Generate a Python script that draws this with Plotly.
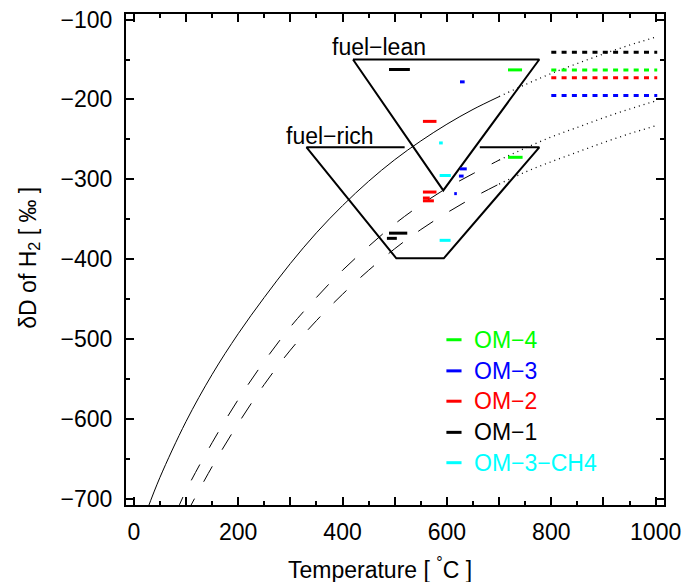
import plotly.graph_objects as go

# ---------------- data ----------------
# equilibrium curves (temperature in deg C, dD in permil); solid/dashed up to 700 C, dotted beyond
solid_T = [25, 50, 100, 150, 200, 250, 300, 350, 400, 450, 500, 550, 600, 650, 700, 750, 800, 850, 900, 950, 1000]
solid_d = [-715, -673.5, -603.5, -544.5, -493.5, -448, -405.5, -367, -333, -302.5, -275.5, -252, -231, -212.5,
           -196.5, -181.5, -167.5, -155, -143, -132, -122]
dashA_T = [80, 100, 150, 200, 250, 300, 350, 400, 450, 500, 550, 600, 650, 700, 750, 800, 850, 900, 950, 1000]
dashA_d = [-719, -690, -630, -576, -528, -485, -448, -414, -384, -356, -332, -311, -293, -276, -261, -247, -235,
           -223, -212, -202]
dashB_T = [100, 150, 200, 250, 300, 350, 400, 450, 500, 550, 600, 650, 700, 750, 800, 850, 900, 950, 1000]
dashB_d = [-720, -660, -606, -557, -514, -477, -444, -414, -387, -363, -342, -323, -306, -291, -278, -266, -254,
           -243, -233]
T_SWITCH = 700

# fuel-lean triangle and fuel-rich trapezoid outlines
lean_T = [420, 593, 777, 420]
lean_d = [-150, -314, -150, -150]
rich_T = [519, 331, 503, 594, 777, 663]
rich_d = [-260, -260, -399, -399, -260, -260]

# measured samples: temperature range (lo, hi) and dD
series_names = ["OM−4", "OM−3", "OM−2", "OM−1", "OM−3−CH4"]
series_colors = ["#00ff00", "#0000ff", "#ff0000", "#000000", "#00ffff"]
om4_Tlo = [717, 717]
om4_Thi = [744, 745]
om4_d = [-163, -272.5]
om3_Tlo = [625, 625, 623, 614]
om3_Thi = [634, 638, 632, 619]
om3_d = [-178, -287, -296, -318]
om2_Tlo = [554, 554, 554, 554]
om2_Thi = [580, 580, 567, 575]
om2_d = [-227.5, -316, -323.5, -327]
om1_Tlo = [489, 489, 485]
om1_Thi = [529, 524, 504]
om1_d = [-162.5, -367.5, -374]
ch4_Tlo = [585, 586, 586]
ch4_Thi = [592, 607.5, 607]
ch4_d = [-254.5, -295.3, -376.5]

# reference levels drawn as thick dotted lines at high temperature
ref_T = [800, 1003]
ref_names = ["OM−1", "OM−4", "OM−2", "OM−3"]
ref_d = [-141, -163, -173, -195]
ref_colors = ["#000000", "#00ff00", "#ff0000", "#0000ff"]

# axis ticks
x_tickvals = [0, 100, 200, 300, 400, 500, 600, 700, 800, 900, 1000]
x_ticktext = ["0", "", "200", "", "400", "", "600", "", "800", "", "1000"]
x_minor = [50, 150, 250, 350, 450, 550, 650, 750, 850, 950]
y_tickvals = [-700, -600, -500, -400, -300, -200, -100]
y_ticktext = ["−700", "−600", "−500", "−400", "−300", "−200", "−100"]
y_minor = [-650, -550, -450, -350, -250, -150]

# legend placement (data coords)
legend_d = [-501, -540, -578, -617, -655]

FONT = "Liberation Sans, Arial, Helvetica, sans-serif"

fig = go.Figure()


def split(T, d):
    lo = [(t, v) for t, v in zip(T, d) if t <= T_SWITCH]
    hi = [(t, v) for t, v in zip(T, d) if t >= T_SWITCH]
    return [p[0] for p in lo], [p[1] for p in lo], [p[0] for p in hi], [p[1] for p in hi]


for T, d, dash in [(solid_T, solid_d, "solid"), (dashA_T, dashA_d, "18px,19px"), (dashB_T, dashB_d, "18px,19px")]:
    t1, d1, t2, d2 = split(T, d)
    fig.add_trace(go.Scatter(x=t1, y=d1, mode="lines", line=dict(color="black", width=1, dash=dash, shape="spline", smoothing=1),
                             hoverinfo="skip"))
    fig.add_trace(go.Scatter(x=t2, y=d2, mode="lines", line=dict(color="black", width=1.3, dash="1px,4px", shape="spline", smoothing=1),
                             hoverinfo="skip"))

# outlines
fig.add_trace(go.Scatter(x=lean_T, y=lean_d, mode="lines", line=dict(color="black", width=2), hoverinfo="skip"))
fig.add_trace(go.Scatter(x=rich_T, y=rich_d, mode="lines", line=dict(color="black", width=2), hoverinfo="skip"))

# reference dotted levels
for name, v, c in zip(ref_names, ref_d, ref_colors):
    fig.add_trace(go.Scatter(x=ref_T, y=[v, v], mode="lines", name=name,
                             line=dict(color=c, width=3, dash="5px,5.3px")))

# sample bars
samples = [(om4_Tlo, om4_Thi, om4_d), (om3_Tlo, om3_Thi, om3_d), (om2_Tlo, om2_Thi, om2_d),
           (om1_Tlo, om1_Thi, om1_d), (ch4_Tlo, ch4_Thi, ch4_d)]
for (tlo, thi, dd), name, c in zip(samples, series_names, series_colors):
    xs, ys = [], []
    for a, b, v in zip(tlo, thi, dd):
        xs += [a, b, None]
        ys += [v, v, None]
    fig.add_trace(go.Scatter(x=xs, y=ys, mode="lines", name=name, line=dict(color=c, width=3)))

# legend (drawn manually)
annotations = []
shapes = []
for name, c, v in zip(series_names, series_colors, legend_d):
    shapes.append(dict(type="line", xref="x", yref="y", x0=599, x1=628, y0=v, y1=v,
                       line=dict(color=c, width=3)))
    annotations.append(dict(x=648, y=v, xref="x", yref="y", text=name, showarrow=False,
                            xanchor="left", yanchor="middle", font=dict(color=c, size=23, family=FONT)))

annotations.append(dict(x=564, y=-134, xref="x", yref="y", text="fuel−lean", showarrow=False,
                        xanchor="right", yanchor="middle", font=dict(size=23, family=FONT)))
annotations.append(dict(x=465, y=-245.5, xref="x", yref="y", text="fuel−rich", showarrow=False,
                        xanchor="right", yanchor="middle", font=dict(size=23, family=FONT)))
annotations.append(dict(x=-0.18, y=0.504, xref="paper", yref="paper", text="δD of H<sub>2</sub> [ ‰ ]",
                        showarrow=False, textangle=-90, xanchor="center", yanchor="middle",
                        font=dict(size=23, family=FONT)))
annotations.append(dict(x=0.472, y=-0.128, xref="paper", yref="paper", text="Temperature [ <sup>°</sup>C ]",
                        showarrow=False, xanchor="center", yanchor="middle", font=dict(size=23, family=FONT)))

axis_common = dict(showline=True, linewidth=2, linecolor="black", mirror="ticks", ticks="inside",
                   ticklen=8, tickwidth=1.5, tickcolor="black", showgrid=False, zeroline=False,
                   automargin=False, ticklabeloverflow="allow",
                   tickfont=dict(size=23, family=FONT, color="black"))

fig.update_layout(
    width=683, height=582,
    margin=dict(l=126, r=19, t=14, b=77),
    plot_bgcolor="white", paper_bgcolor="white",
    showlegend=False,
    font=dict(family=FONT, size=23, color="black"),
    xaxis=dict(range=[-15, 1016], tickmode="array", tickvals=x_tickvals, ticktext=x_ticktext,
               minor=dict(tickmode="array", tickvals=x_minor, ticklen=4, ticks="inside", tickwidth=1.5, tickcolor="black"),
               ticklabelstandoff=5, **axis_common),
    yaxis=dict(range=[-708, -93], tickmode="array", tickvals=y_tickvals, ticktext=y_ticktext,
               minor=dict(tickmode="array", tickvals=y_minor, ticklen=4, ticks="inside", tickwidth=1.5, tickcolor="black"),
               ticklabelstandoff=7, **axis_common),
    annotations=annotations,
    shapes=shapes,
)

# remove the browser's default 8 px body margin so the figure fills the window exactly
fig.write_html("out.html", config={"displayModeBar": False},
               post_script="document.body.style.margin='0';document.body.style.overflow='hidden';")
